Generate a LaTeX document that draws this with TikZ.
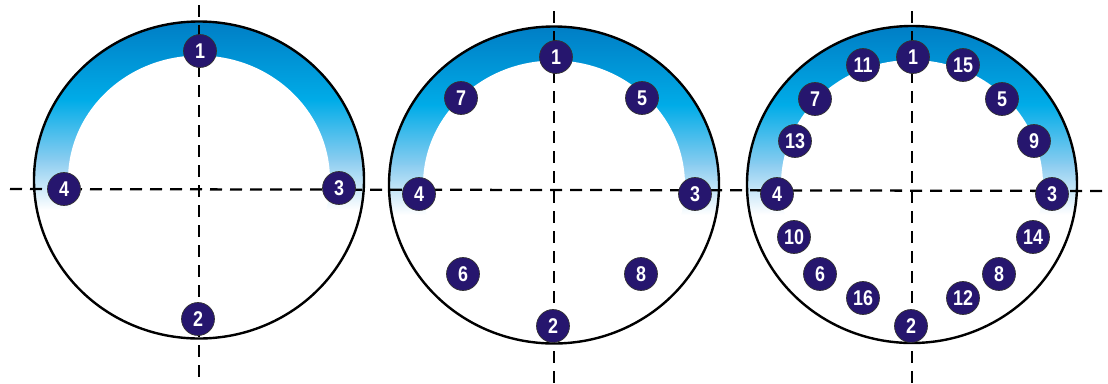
\documentclass[tikz,border=0pt]{standalone}
\usepackage{fontspec}
\newfontfamily\pinfont{Liberation Sans}[FakeStretch=0.84]
\definecolor{pinfill}{RGB}{38,22,110}
\definecolor{bandtop}{RGB}{0,122,194}
\definecolor{bandmid}{RGB}{0,172,232}
\definecolor{bandlow}{RGB}{140,205,240}
\begin{document}
\begin{tikzpicture}[
		x=0.75pt, y=0.75pt,
		pin/.style={
				circle,
				draw=black!80,
				line width=0.5pt,
				fill=pinfill,
				text=white,
				minimum size=24.75pt,
				inner sep=0pt,
				font=\pinfont\bfseries\fontsize{16}{16}\selectfont
			},
		axis/.style={line width=1.7pt, dash pattern=on 9pt off 6pt},
		rim/.style={line width=1.8pt}
	]
	\useasboundingbox (0,0) rectangle (1108,-383);

	% blue band over the upper half of each flange
	\foreach \cx/\cy in {199/-180, 554/-185, 912/-184.5}{
		\begin{scope}
			\clip (\cx,\cy) ellipse (165 and 158.5);
			\shade[top color=bandtop, bottom color=bandmid]
			(\cx-170,\cy+165) rectangle (\cx+170,\cy+79);
			\shade[top color=bandmid, bottom color=bandlow]
			(\cx-170,\cy+80) rectangle (\cx+170,\cy+19);
			\shade[top color=bandlow, bottom color=white]
			(\cx-170,\cy+20) rectangle (\cx+170,\cy-30);
			\fill[white] (\cx,\cy) ellipse (131 and 124.5);
		\end{scope}
	}

	% axes
	\coordinate (atop) at (199,-5);
	\coordinate (abot) at (199,-380);
	\coordinate (btop) at (554,-11);
	\coordinate (bbot) at (554,-383);
	\coordinate (ctop) at (912,-11);
	\coordinate (cbot) at (912,-383);
	\coordinate (hleft) at (10,-189);
	\coordinate (hright) at (1108,-191);

	\draw[axis] (atop) -- (abot);
	\draw[axis] (btop) -- (bbot);
	\draw[axis] (ctop) -- (cbot);
	\draw[axis] (hleft) -- (hright);

	% flange outlines
	\draw[rim] (199,-180) ellipse (165 and 158.5);
	\draw[rim] (554,-185) ellipse (165 and 158.5);
	\draw[rim] (912,-184.5) ellipse (165 and 158.5);

	% 4 bolts
	\node[pin] (a1) at (200,-51) {1};
	\node[pin] (a2) at (198,-319) {2};
	\node[pin] (a3) at (339,-188) {3};
	\node[pin] (a4) at (64,-189) {4};

	% 8 bolts
	\node[pin] (b1) at (556,-57) {1};
	\node[pin] (b2) at (553,-326) {2};
	\node[pin] (b3) at (695,-194) {3};
	\node[pin] (b4) at (419,-194) {4};
	\node[pin] (b5) at (642,-98) {5};
	\node[pin] (b6) at (463,-274) {6};
	\node[pin] (b7) at (461,-98) {7};
	\node[pin] (b8) at (641,-274) {8};

	% 16 bolts
	\node[pin] (c1) at (913,-57) {1};
	\node[pin] (c2) at (911,-326) {2};
	\node[pin] (c3) at (1052,-194) {3};
	\node[pin] (c4) at (777,-194) {4};
	\node[pin] (c5) at (1002,-99) {5};
	\node[pin] (c6) at (820,-274) {6};
	\node[pin] (c7) at (815,-99) {7};
	\node[pin] (c8) at (999,-274) {8};
	\node[pin] (c9) at (1034,-141) {9};
	\node[pin] (c10) at (794,-237) {10};
	\node[pin] (c11) at (863,-65) {11};
	\node[pin] (c12) at (963,-298) {12};
	\node[pin] (c13) at (795,-141) {13};
	\node[pin] (c14) at (1033,-237) {14};
	\node[pin] (c15) at (963,-65) {15};
	\node[pin] (c16) at (863,-298) {16};

\end{tikzpicture}
\end{document}
